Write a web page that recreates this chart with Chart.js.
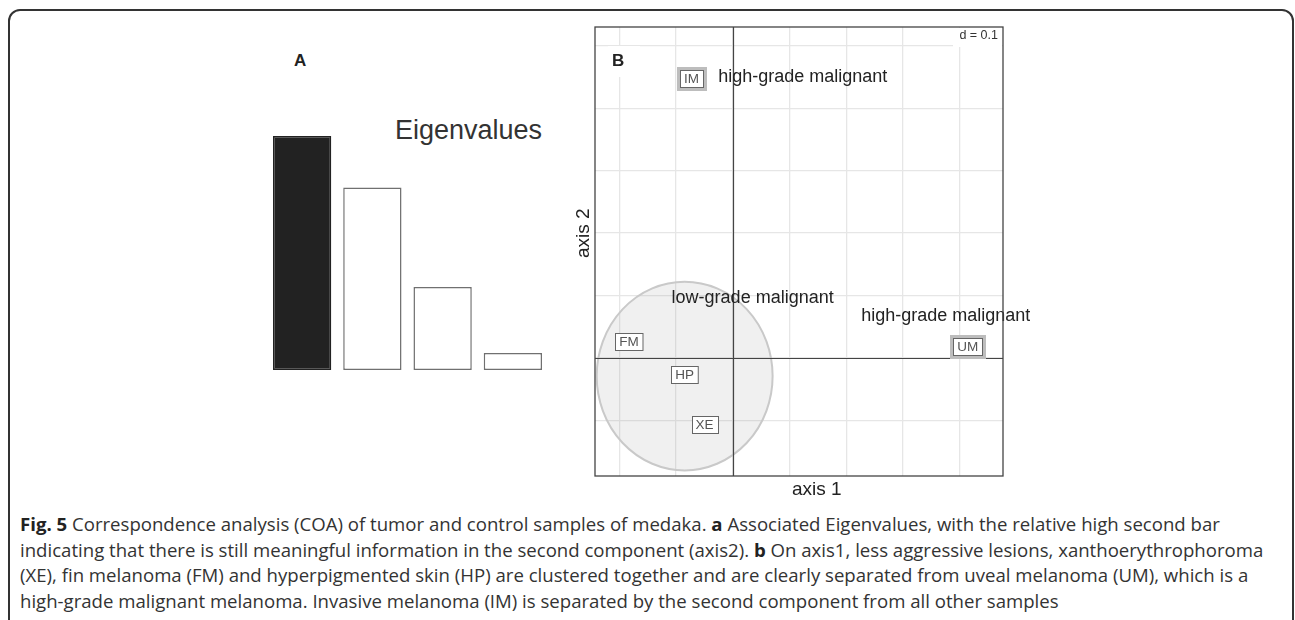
<!DOCTYPE html>
<html>
<head>
<meta charset="utf-8">
<script src="https://cdn.jsdelivr.net/npm/chart.js@4.4.1/dist/chart.umd.min.js"></script>
<style>
  body { margin: 0; background: #fff; width: 1295px; height: 620px; overflow: hidden; position: relative; font-family: "Liberation Sans", Arial, sans-serif; }
  .frame { position: absolute; left: 8px; top: 9px; width: 1282px; height: 660px; border: 2px solid #333; border-radius: 12px; }
  #barWrap { position: absolute; left: 267px; top: 126px; width: 281px; height: 245px; }
  #coaWrap { position: absolute; left: 560px; top: 10px; width: 470px; height: 500px; }
  .lbl { position: absolute; color: #222; white-space: nowrap; line-height: 1; }
  .caption { position: absolute; left: 20px; top: 511px; font-family: "Open Sans", sans-serif; font-size: 18.6px; line-height: 25.6px; color: #333; white-space: nowrap; }
  .caption b { color: #222; }
</style>
</head>
<body>
<div class="frame"></div>

<div class="lbl" style="left:294px; top:52px; font-size:17px; font-weight:bold;">A</div>
<div class="lbl" style="left:395px; top:117px; font-size:27px; color:#333;">Eigenvalues</div>
<div id="barWrap"><canvas id="bar-chart"></canvas></div>

<div id="coaWrap"><canvas id="coa-chart"></canvas></div>
<div class="lbl" style="left:792px; top:479px; font-size:19px;">axis 1</div>
<div class="lbl" style="left:553px; top:220px; font-size:19px; transform:rotate(-90deg); transform-origin:29px 9px;">axis 2</div>

<div class="caption">
  <b>Fig. 5</b> Correspondence analysis (COA) of tumor and control samples of medaka. <b>a</b> Associated Eigenvalues, with the relative high second bar<br>
  indicating that there is still meaningful information in the second component (axis2). <b>b</b> On axis1, less aggressive lesions, xanthoerythrophoroma<br>
  (XE), fin melanoma (FM) and hyperpigmented skin (HP) are clustered together and are clearly separated from uveal melanoma (UM), which is a<br>
  high-grade malignant melanoma. Invasive melanoma (IM) is separated by the second component from all other samples
</div>

<script>
// panel A: eigenvalues (relative heights)
const eigenLabels = ['1', '2', '3', '4'];
const eigenvalues = [1.00, 0.78, 0.355, 0.073];

// panel B: sample coordinates on axis 1 / axis 2
const sampleNames = ['IM', 'FM', 'HP', 'XE', 'UM'];
const axis1 = [-0.073, -0.183, -0.085, -0.050, 0.414];
const axis2 = [0.448, 0.027, -0.026, -0.106, 0.019];
const singleSamples = ['IM', 'UM'];

// group labels (text, anchor on axis1 / axis2)
const groupNames = ['high-grade malignant', 'low-grade malignant', 'high-grade malignant'];
const groupAxis1 = [-0.026, -0.108, 0.226];
const groupAxis2 = [0.450, 0.096, 0.067];

// ellipse of the low-grade group: centre and radii
const ellipseCenter = [-0.085, -0.029];
const ellipseRadius = [0.155, 0.151];

const xRange = [-0.243, 0.476];
const yRange = [-0.189, 0.530];

new Chart('bar-chart', {
  type: 'bar',
  data: {
    labels: eigenLabels,
    datasets: [{
      data: eigenvalues,
      backgroundColor: ['#222', '#fff', '#fff', '#fff'],
      borderColor: ['#222', '#707070', '#707070', '#707070'],
      borderWidth: 1.5,
      borderSkipped: false,
      barPercentage: 0.83,
      categoryPercentage: 1
    }]
  },
  options: {
    animation: false,
    responsive: true,
    maintainAspectRatio: false,
    layout: { padding: { top: 10, bottom: 1 } },
    plugins: { legend: { display: false }, tooltip: { enabled: false } },
    scales: {
      x: { display: false },
      y: { display: false, min: 0, max: Math.max(...eigenvalues) }
    }
  }
});

const coaDecor = {
  id: 'coaDecor',
  beforeDatasetsDraw(chart) {
    const {ctx, chartArea: a, scales: {x, y}} = chart;
    ctx.save();
    const cx = x.getPixelForValue(ellipseCenter[0]);
    const cy = y.getPixelForValue(ellipseCenter[1]);
    const rx = Math.abs(x.getPixelForValue(ellipseCenter[0] + ellipseRadius[0]) - cx);
    const ry = Math.abs(y.getPixelForValue(ellipseCenter[1] + ellipseRadius[1]) - cy);
    ctx.beginPath();
    ctx.ellipse(cx, cy, rx, ry, 0, 0, 2 * Math.PI);
    ctx.fillStyle = 'rgba(150,150,150,0.14)';
    ctx.fill();
    ctx.lineWidth = 2;
    ctx.strokeStyle = '#c9c9c9';
    ctx.stroke();

    // origin lines
    const x0 = Math.round(x.getPixelForValue(0)) + 0.5;
    const y0 = Math.round(y.getPixelForValue(0)) + 0.5;
    ctx.strokeStyle = '#444';
    ctx.lineWidth = 1.2;
    ctx.beginPath();
    ctx.moveTo(x0, a.top); ctx.lineTo(x0, a.bottom);
    ctx.moveTo(a.left, y0); ctx.lineTo(a.right, y0);
    ctx.stroke();
    ctx.restore();
  },
  afterDatasetsDraw(chart) {
    const {ctx, chartArea: a, scales: {x, y}} = chart;
    ctx.save();

    // "B" and "d = 0.1" on white patches
    ctx.fillStyle = '#fff';
    ctx.fillRect(a.left + 13, a.top + 19, 32, 31);
    ctx.fillRect(a.right - 50, a.top + 1, 49, 19);
    ctx.fillStyle = '#222';
    ctx.font = 'bold 17px "Liberation Sans", Arial, sans-serif';
    ctx.textBaseline = 'middle';
    ctx.textAlign = 'left';
    ctx.fillText('B', a.left + 17, a.top + 34);
    ctx.font = '12.5px "Liberation Sans", Arial, sans-serif';
    ctx.fillStyle = '#333';
    ctx.textAlign = 'right';
    ctx.fillText('d = 0.1', a.right - 5, a.top + 9);

    // group labels
    ctx.textAlign = 'left';
    ctx.fillStyle = '#222';
    ctx.font = '18px "Liberation Sans", Arial, sans-serif';
    groupNames.forEach((g, i) => {
      ctx.fillText(g, x.getPixelForValue(groupAxis1[i]), y.getPixelForValue(groupAxis2[i]));
    });

    // sample label boxes
    ctx.font = '13.5px "Liberation Sans", Arial, sans-serif';
    ctx.textAlign = 'center';
    const meta = chart.getDatasetMeta(0);
    meta.data.forEach((pt, i) => {
      const name = sampleNames[i];
      const w = ctx.measureText(name).width + 8;
      const h = 17;
      const bx = Math.round(pt.x - w / 2) + 0.5;
      const by = Math.round(pt.y - h / 2) + 0.5;
      ctx.fillStyle = '#fff';
      ctx.fillRect(bx, by, w, h);
      if (singleSamples.includes(name)) {
        ctx.strokeStyle = '#bdbdbd';
        ctx.lineWidth = 3;
        ctx.strokeRect(bx - 2, by - 2, w + 4, h + 4);
      }
      ctx.strokeStyle = '#666';
      ctx.lineWidth = 1;
      ctx.strokeRect(bx, by, w, h);
      ctx.fillStyle = '#555';
      ctx.fillText(name, pt.x, pt.y + 1);
    });

    // plot frame
    ctx.strokeStyle = '#444';
    ctx.lineWidth = 1.3;
    ctx.strokeRect(a.left, a.top, a.right - a.left, a.bottom - a.top);
    ctx.restore();
  }
};

new Chart('coa-chart', {
  type: 'scatter',
  data: {
    datasets: [{
      data: axis1.map((v, i) => ({x: v, y: axis2[i]})),
      pointRadius: 0
    }]
  },
  options: {
    animation: false,
    responsive: true,
    maintainAspectRatio: false,
    layout: { padding: { left: 35, top: 17, right: 27, bottom: 34 } },
    plugins: { legend: { display: false }, tooltip: { enabled: false } },
    scales: {
      x: {
        min: xRange[0], max: xRange[1],
        ticks: { display: false, stepSize: 0.1, includeBounds: false },
        grid: { color: '#e6e6e6', lineWidth: 1.3, drawTicks: false },
        border: { display: false }
      },
      y: {
        min: yRange[0], max: yRange[1],
        ticks: { display: false, stepSize: 0.1, includeBounds: false },
        grid: { color: '#e6e6e6', lineWidth: 1.3, drawTicks: false },
        border: { display: false }
      }
    }
  },
  plugins: [coaDecor]
});
</script>
</body>
</html>
